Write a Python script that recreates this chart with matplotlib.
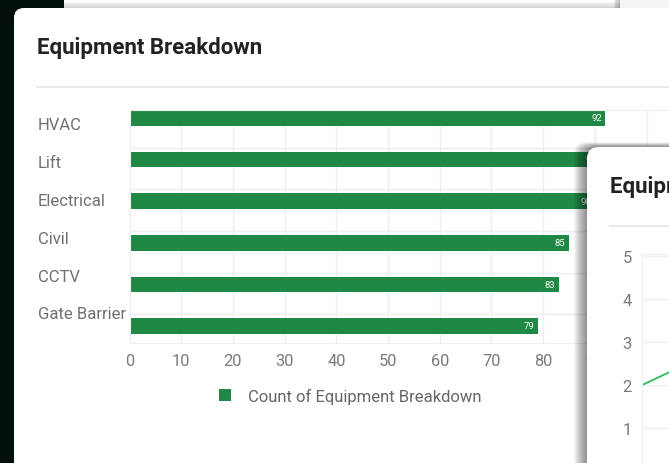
import matplotlib
matplotlib.use('Agg')
import matplotlib.pyplot as plt
from matplotlib.patches import FancyBboxPatch
from matplotlib.lines import Line2D
from matplotlib.transforms import Affine2D, ScaledTranslation

# data
categories = ['HVAC', 'Lift', 'Electrical', 'Civil', 'CCTV', 'Gate Barrier']
counts = [92, 91, 90, 85, 83, 79]
x_ticks = [0, 10, 20, 30, 40, 50, 60, 70, 80, 90, 100]
series_name = 'Count of Equipment Breakdown'
title = 'Equipment Breakdown'

trend_x = [0, 1]
trend_y = [2, 4]
trend_ticks = [1, 2, 3, 4, 5]
trend_title = 'Equipment Trend'

W, H = 669, 464
BAR = '#1f8845'
LINE = '#2dbd5e'
GRID = '#efefef'
TICK = '#7a7a7a'

plt.rcParams['font.family'] = ['Roboto', 'DejaVu Sans']

fig = plt.figure(figsize=(W / 100, H / 100), dpi=100)
fig.patch.set_facecolor('#03100e')

# pixel coords measured from the top-left corner
px = Affine2D().scale(1, -1).translate(0, H).scale(1 / 100) + fig.dpi_scale_trans


def fx(x):
    return x / W


def fy(y):
    return 1 - y / H


def box(x0, y0, x1, y1, color, z, rad=0.0, alpha=1.0):
    style = f'round,pad=0,rounding_size={rad}' if rad else 'square,pad=0'
    p = FancyBboxPatch((x0, y0), x1 - x0, y1 - y0, boxstyle=style, transform=px,
                       facecolor=color, edgecolor='none', alpha=alpha, zorder=z)
    fig.add_artist(p)
    return p


# card peeking out behind, at the top
box(64, -5, 669, 9, '#ffffff', -4)
for k in range(6):
    box(64, 9 - k * 1.2, 669, 9, 'black', -3.9, alpha=0.035)
for k in range(6):
    box(620 - k * 1.2, -5, 620, 9, 'black', -3.9, alpha=0.06)
box(620, -5, 669, 9, '#f4f4f4', -3.8)

# main card
box(14, 9, 720, 472, '#ffffff', -2, rad=10)
fig.text(fx(37), fy(48), title, fontsize=16, fontweight='bold', color='#222222',
         va='center', ha='left', zorder=-1)
fig.add_artist(Line2D([37, 700], [87.5, 87.5], transform=px, color='#e9e9e9', lw=1.5, zorder=-1))

# bar chart
ax = fig.add_axes([fx(129.5), fy(344), 1 - fx(129.5), fy(111) - fy(344)])
ax.patch.set_alpha(0)
bars = ax.barh(range(len(categories)), counts, height=0.375, color=BAR, zorder=2, label=series_name)
ax.set_xlim(0, (W - 129.5) / 5.17)
ax.set_ylim(5.41, -0.19)
ax.set_xticks(x_ticks)
ax.set_yticks(range(len(categories)), categories)
ax.set_yticks([i + 0.72 for i in range(len(categories) - 1)], minor=True)
ax.set_axisbelow(True)
ax.grid(axis='x', color=GRID, lw=1)
ax.grid(axis='y', which='minor', color=GRID, lw=1)
ax.tick_params(which='both', length=0)
ax.tick_params(axis='x', labelsize=11.8, labelcolor=TICK, pad=7.5)
ax.tick_params(axis='y', labelsize=12, labelcolor='#707070', pad=65.9)
for s in ['top', 'bottom', 'left']:
    ax.spines[s].set_color(GRID)
ax.spines['right'].set_visible(False)

for i, lab in enumerate(ax.get_yticklabels()):
    lab.set_horizontalalignment('left')
    lab.set_transform(lab.get_transform()
                      + ScaledTranslation(0, -(5 - 3.7 * i) / 100, fig.dpi_scale_trans))

for i, v in enumerate(counts):
    ax.annotate(str(v), (v, i), xytext=(-2.5, 0), textcoords='offset points',
                ha='right', va='center', color='white', fontsize=6.8, zorder=3)

ax.legend(handles=[bars], loc='center', bbox_to_anchor=(fx(350), fy(397)),
          bbox_transform=fig.transFigure, frameon=False, fontsize=12,
          labelcolor='#666666', handlelength=0.72, handleheight=0.72, handletextpad=1.0)

# second card, overlapping on the right
for k in range(1, 14):
    box(587 - k, 148 - k * 0.35, 720, 500, 'black', 1, rad=12, alpha=0.038)
box(587, 148, 720, 500, '#ffffff', 1.5, rad=12)
fig.text(fx(610), fy(187), trend_title, fontsize=16, fontweight='bold', color='#222222',
         va='center', ha='left', zorder=4)
fig.add_artist(Line2D([610, 700], [227, 227], transform=px, color='#e9e9e9', lw=1.5, zorder=4))

ax2 = fig.add_axes([fx(641.5), fy(472.6), 182 / W, (472.6 - 255) / H], zorder=3)
ax2.patch.set_alpha(0)
ax2.plot(trend_x, trend_y, color=LINE, lw=1.3)
ax2.set_xlim(0, 1)
ax2.set_ylim(0, 5 + 2 / 43.1)
ax2.set_yticks(trend_ticks)
ax2.set_xticks([])
ax2.grid(axis='y', color=GRID, lw=1)
ax2.set_axisbelow(True)
ax2.tick_params(length=0, labelsize=12, labelcolor=TICK, pad=7)
ax2.spines['left'].set_color(GRID)
ax2.spines['top'].set_color(GRID)
ax2.spines['right'].set_visible(False)
ax2.spines['bottom'].set_visible(False)

fig.savefig('out.png', dpi=100)
